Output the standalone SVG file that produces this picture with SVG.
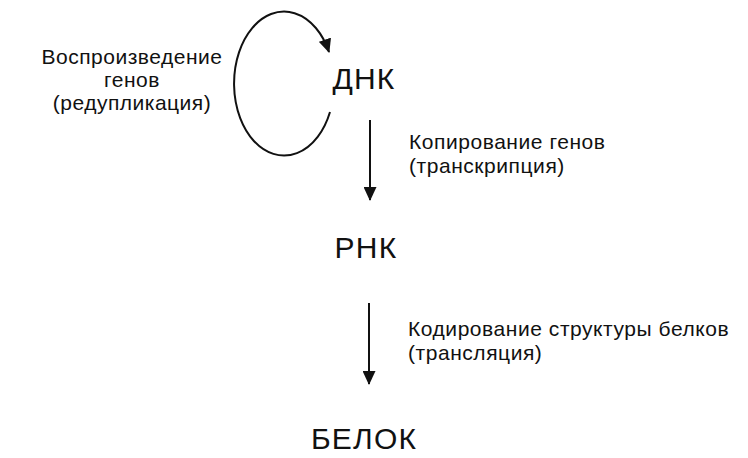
<svg xmlns="http://www.w3.org/2000/svg" width="748" height="458" viewBox="0 0 748 458">
<defs>
<style>
.big{font-family:"Liberation Sans",Arial,sans-serif;font-size:30px;letter-spacing:1.2px;fill:#111;}
.lbl{font-family:"Liberation Sans",Arial,sans-serif;font-size:21px;letter-spacing:0.55px;fill:#111;}
.lbl-l{font-family:"Liberation Sans",Arial,sans-serif;font-size:21px;letter-spacing:0.5px;fill:#111;}
.ln{stroke:#111;stroke-width:2;fill:none;}
</style>
<marker id="ah" viewBox="0 0 14 13" refX="13" refY="6.5" markerWidth="14" markerHeight="13" markerUnits="userSpaceOnUse" orient="auto">
<path d="M0,0 L14,6.5 L0,13 z" fill="#111"/>
</marker>
</defs>
<rect width="748" height="458" fill="#fff"/>
<g id="connectors">
<path class="ln" d="M330,112 A50,72 0 1 1 329,52" marker-end="url(#ah)"/>
<line class="ln" x1="370" y1="120" x2="370" y2="200" marker-end="url(#ah)"/>
<line class="ln" x1="369" y1="303" x2="369" y2="384" marker-end="url(#ah)"/>
</g>
<g id="dna"><text class="big" x="364" y="89" text-anchor="middle">ДНК</text></g>
<g id="rna"><text class="big" x="366" y="258" text-anchor="middle">РНК</text></g>
<g id="protein"><text class="big" x="364" y="449" text-anchor="middle">БЕЛОК</text></g>
<g id="label-replication">
<text class="lbl-l" text-anchor="middle" x="132" y="64">Воспроизведение</text>
<text class="lbl-l" text-anchor="middle" x="132" y="87">генов</text>
<text class="lbl-l" text-anchor="middle" x="132" y="110">(редупликация)</text>
</g>
<g id="label-transcription">
<text class="lbl" x="409" y="149">Копирование генов</text>
<text class="lbl" x="409" y="173">(транскрипция)</text>
</g>
<g id="label-translation">
<text class="lbl" x="408" y="336">Кодирование структуры белков</text>
<text class="lbl" x="408" y="360">(трансляция)</text>
</g>
</svg>
